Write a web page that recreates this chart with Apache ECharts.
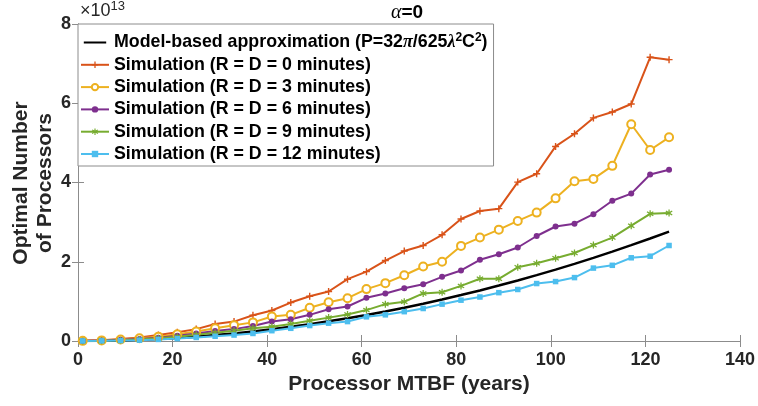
<!DOCTYPE html>
<html>
<head>
<meta charset="utf-8">
<script src="https://cdn.jsdelivr.net/npm/echarts@6/dist/echarts.min.js"></script>
<style>html,body{margin:0;padding:0;background:#fff}#c{width:758px;height:406px}</style>
</head>
<body>
<div id="c"></div>
<script>
// Processor MTBF (years)
const mtbf = [1,5,9,13,17,21,25,29,33,37,41,45,49,53,57,61,65,69,73,77,81,85,89,93,97,101,105,109,113,117,121,125];
// Optimal number of processors (x 1e13)
const model = [0.0002,0.0044,0.014,0.030,0.051,0.078,0.110,0.149,0.192,0.242,0.297,0.358,0.424,0.496,0.574,0.657,0.746,0.841,0.941,1.047,1.159,1.276,1.399,1.527,1.662,1.801,1.947,2.098,2.255,2.418,2.586,2.76];
const sim0 = [0.005,0.02,0.05,0.09,0.15,0.22,0.30,0.43,0.49,0.65,0.77,0.97,1.13,1.25,1.56,1.75,2.03,2.27,2.41,2.68,3.08,3.28,3.34,4.01,4.22,4.91,5.23,5.63,5.78,5.98,7.16,7.10];
const sim3 = [0.004,0.015,0.04,0.07,0.11,0.17,0.24,0.32,0.40,0.47,0.62,0.66,0.84,0.98,1.08,1.31,1.46,1.66,1.88,2.00,2.40,2.61,2.81,3.03,3.24,3.60,4.03,4.09,4.42,5.47,4.82,5.14];
const sim6 = [0.003,0.01,0.03,0.05,0.08,0.13,0.19,0.25,0.30,0.38,0.49,0.55,0.66,0.80,0.87,1.09,1.20,1.33,1.43,1.62,1.78,2.05,2.19,2.36,2.65,2.89,2.96,3.20,3.54,3.72,4.20,4.32];
const sim9 = [0.002,0.008,0.02,0.04,0.07,0.11,0.16,0.21,0.26,0.32,0.36,0.43,0.51,0.59,0.67,0.78,0.93,0.99,1.20,1.23,1.39,1.57,1.57,1.86,1.96,2.09,2.22,2.42,2.61,2.91,3.21,3.23];
const sim12 = [0.001,0.004,0.01,0.02,0.04,0.06,0.09,0.12,0.15,0.19,0.26,0.32,0.39,0.45,0.49,0.61,0.66,0.74,0.82,0.93,1.03,1.11,1.22,1.30,1.45,1.50,1.60,1.84,1.91,2.10,2.14,2.41];
const xTicks = [0,20,40,60,80,100,120,140];
const yTicks = [0,2,4,6,8];

const names = [
  'Model-based approximation (P=32\u03c0/625\u03bb\u00b2C\u00b2)',
  'Simulation (R = D = 0 minutes)',
  'Simulation (R = D = 3 minutes)',
  'Simulation (R = D = 6 minutes)',
  'Simulation (R = D = 9 minutes)',
  'Simulation (R = D = 12 minutes)'
];
const colors = ['#000000','#D95319','#EDB120','#7E2F8E','#77AC30','#4DBEEE'];
const pair = arr => mtbf.map((x,i)=>[x,arr[i]]);
const FONT = '"Liberation Sans", Arial, sans-serif';
const plusPath = 'path://M4,0 L6,0 L6,4 L10,4 L10,6 L6,6 L6,10 L4,10 L4,6 L0,6 L0,4 L4,4 Z';
const starPath = 'path://M4.2,0 L5.8,0 L5.8,3.2 L8.6,1.5 L9.4,2.9 L6.6,5 L9.4,7.1 L8.6,8.5 L5.8,6.8 L5.8,10 L4.2,10 L4.2,6.8 L1.4,8.5 L0.6,7.1 L3.4,5 L0.6,2.9 L1.4,1.5 L4.2,3.2 Z';

const simData = [sim0, sim3, sim6, sim9, sim12];
const simSym = [plusPath, 'emptyCircle', 'circle', starPath, 'rect'];
const simSize = [7, 8, 6, 7, 5.5];

const series = [{
  name: names[0], type: 'line', data: pair(model), symbol: 'none', showSymbol: false,
  lineStyle: {color: colors[0], width: 2.5}, itemStyle: {color: colors[0]}, z: 3, animation: false
}];
simData.forEach((d,k)=>{
  series.push({
    name: names[k+1], type: 'line', data: pair(d), symbol: simSym[k], symbolSize: simSize[k],
    showSymbol: true,
    lineStyle: {color: colors[k+1], width: 2},
    itemStyle: {color: colors[k+1], borderColor: colors[k+1], borderWidth: k===1 ? 1.6 : 0},
    z: 4, animation: false
  });
});

const legendData = names.map((n,i)=> i===0
  ? {name: n, icon: 'path://M0,0 L0.01,0 L0.01,0.01 Z M0,3.6 L28,3.6 L28,6.4 L0,6.4 Z M0,9.99 L0.01,9.99 L0.01,10 Z', itemStyle: {color: '#000', borderWidth: 0}}
  : {name: n});

const axisGray = '#8c8c8c';
const chart = echarts.init(document.getElementById('c'), null, {renderer: 'canvas'});
chart.setOption({
  backgroundColor: '#fff',
  animation: false,
  grid: {left: 78, right: 18, top: 24, bottom: 65, containLabel: false},
  xAxis: [{
    type: 'value', min: 0, max: 140, interval: 20,
    axisLine: {show: true, lineStyle: {color: axisGray, width: 1}},
    axisTick: {show: true, inside: true, length: 6, lineStyle: {color: axisGray}},
    splitLine: {show: false},
    axisLabel: {color: '#262626', fontSize: 18, fontWeight: 'bold', fontFamily: FONT, margin: 10,
      formatter: v => xTicks.includes(v) ? String(v) : ''},
    name: 'Processor MTBF (years)', nameLocation: 'middle', nameGap: 33,
    nameTextStyle: {color: '#262626', fontSize: 21, fontWeight: 'bold', fontFamily: FONT}
  },{
    type: 'value', min: 0, max: 140, interval: 20, position: 'top',
    axisLine: {show: true, lineStyle: {color: axisGray, width: 1}},
    axisTick: {show: true, inside: true, length: 6, lineStyle: {color: axisGray}},
    axisLabel: {show: false}, splitLine: {show: false}
  }],
  yAxis: [{
    type: 'value', min: 0, max: 8, interval: 2,
    axisLine: {show: true, lineStyle: {color: axisGray, width: 1}},
    axisTick: {show: true, inside: true, length: 6, lineStyle: {color: axisGray}},
    splitLine: {show: false},
    axisLabel: {color: '#262626', fontSize: 18, fontWeight: 'bold', fontFamily: FONT, margin: 7,
      formatter: v => yTicks.includes(v) ? String(v) : ''}
  },{
    type: 'value', min: 0, max: 8, interval: 2, position: 'right',
    axisLine: {show: true, lineStyle: {color: axisGray, width: 1}},
    axisTick: {show: true, inside: true, length: 6, lineStyle: {color: axisGray}},
    axisLabel: {show: false}, splitLine: {show: false}
  }],
  legend: {
    show: true, orient: 'vertical', left: 78, top: 24,
    data: legendData,
    backgroundColor: '#fff', borderColor: axisGray, borderWidth: 1, borderRadius: 0,
    padding: [8, 6, 3, 2], itemGap: 4.3, itemWidth: 28, itemHeight: 8, itemTextGap: 4,
    selectedMode: false,
    lineStyle: {width: 2},
    textStyle: {
      color: '#000', fontSize: 17.8, fontWeight: 'bold', fontFamily: FONT, lineHeight: 18,
      rich: {
        a: {fontSize: 17.8, fontWeight: 'bold', fontFamily: FONT, color: '#000'},
        g: {fontSize: 18, fontStyle: 'italic', fontFamily: '"Liberation Serif", "DejaVu Serif", serif', color: '#000'},
        s: {fontSize: 12, fontWeight: 'bold', fontFamily: FONT, color: '#000', padding: [0,0,9,0]}
      }
    },
    formatter: function(n){
      if (n === names[0]) {
        return '{a|Model-based approximation (P=32}{g|\u03c0}{a|/625}{g|\u03bb}{s|2}{a|C}{s|2}{a|)}';
      }
      return n;
    }
  },
  graphic: [
    {type: 'text', left: 80, top: 0, z: 10, style: {
      text: '{a|\u00d710}{s|13}',
      rich: {
        a: {fontSize: 18, fontFamily: FONT, fill: '#262626', fontWeight: 'normal'},
        s: {fontSize: 13, fontFamily: FONT, fill: '#262626', padding: [0,0,10,0]}
      }
    }},
    {type: 'text', x: 407, y: 13, z: 10, style: {
      text: '{g|\u03b1}{a|=0}', align: 'center', verticalAlign: 'middle',
      rich: {
        g: {fontSize: 20, fontStyle: 'italic', fontFamily: '"Liberation Serif", serif', fill: '#000'},
        a: {fontSize: 19, fontWeight: 'bold', fontFamily: FONT, fill: '#000'}
      }
    }},
    {type: 'text', x: 21, y: 183, rotation: Math.PI/2, z: 10, style: {
      text: 'Optimal Number', align: 'center', verticalAlign: 'middle',
      fontSize: 21, fontWeight: 'bold', fontFamily: FONT, fill: '#262626'
    }},
    {type: 'text', x: 45, y: 183, rotation: Math.PI/2, z: 10, style: {
      text: 'of Processors', align: 'center', verticalAlign: 'middle',
      fontSize: 21, fontWeight: 'bold', fontFamily: FONT, fill: '#262626'
    }}
  ],
  series: series
});
</script>
</body>
</html>
